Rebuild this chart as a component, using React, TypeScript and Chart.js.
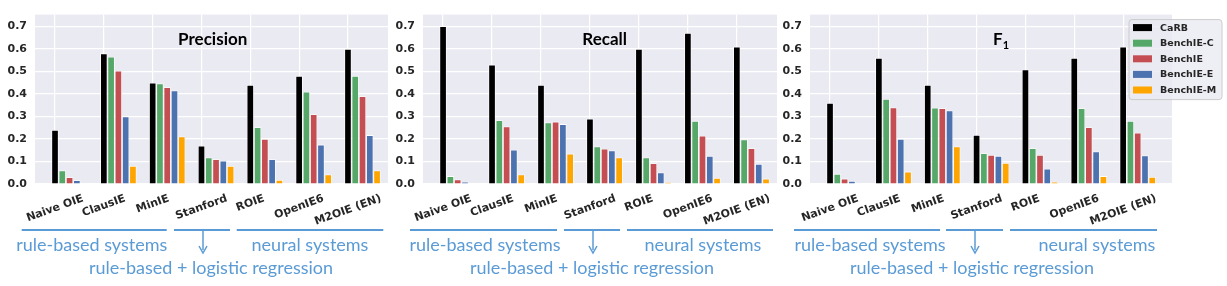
import React, { useEffect, useRef } from "react";
import { Chart, registerables } from "chart.js";

Chart.register(...registerables);

// ---------- data ----------
const categories = ["Naive OIE", "ClausIE", "MinIE", "Stanford", "ROIE", "OpenIE6", "M2OIE (EN)"];
const seriesNames = ["CaRB", "BenchIE-C", "BenchIE", "BenchIE-E", "BenchIE-M"];
const seriesColors = ["#000000", "#55A868", "#C44E52", "#4C72B0", "#FFA500"];
const yTicks = [0, 0.1, 0.2, 0.3, 0.4, 0.5, 0.6, 0.7];

const precisionCaRB = [0.24, 0.58, 0.45, 0.17, 0.44, 0.48, 0.6];
const precisionC = [0.06, 0.565, 0.446, 0.118, 0.252, 0.41, 0.48];
const precisionB = [0.03, 0.503, 0.43, 0.11, 0.2, 0.31, 0.39];
const precisionE = [0.017, 0.3, 0.415, 0.103, 0.11, 0.175, 0.217];
const precisionM = [0, 0.08, 0.211, 0.08, 0.018, 0.042, 0.06];

const recallCaRB = [0.7, 0.53, 0.44, 0.29, 0.6, 0.67, 0.61];
const recallC = [0.035, 0.283, 0.273, 0.167, 0.118, 0.28, 0.198];
const recallB = [0.02, 0.255, 0.277, 0.157, 0.092, 0.214, 0.159];
const recallE = [0.01, 0.152, 0.266, 0.149, 0.051, 0.125, 0.089];
const recallM = [0, 0.042, 0.135, 0.118, 0.008, 0.027, 0.024];

const f1CaRB = [0.36, 0.56, 0.44, 0.218, 0.508, 0.56, 0.61];
const f1C = [0.045, 0.377, 0.339, 0.137, 0.159, 0.336, 0.28];
const f1B = [0.024, 0.34, 0.336, 0.129, 0.129, 0.252, 0.228];
const f1E = [0.013, 0.2, 0.326, 0.125, 0.068, 0.144, 0.127];
const f1M = [0, 0.055, 0.167, 0.093, 0.01, 0.035, 0.031];

const groupLabels = ["rule-based systems", "neural systems", "rule-based + logistic regression"];

// ---------- layout ----------
const TICK_FONT = "bold 11px 'DejaVu Sans'";
const TEXT_COLOR = "#262626";
const ANNO_COLOR = "#5B9BD5";
const CANVAS_H = 230;

type Panel = {
  title: string;
  sub?: string;
  series: number[][];
  left: number;
  width: number;
  padRight: number;
  xMin: number;
  xMax: number;
  titleX: number;
  legend: boolean;
};

const panels: Panel[] = [
  {
    title: "Precision",
    series: [precisionCaRB, precisionC, precisionB, precisionE, precisionM],
    left: 0, width: 390, padRight: 2, xMin: -0.41, xMax: 6.82, titleX: 3.23, legend: false,
  },
  {
    title: "Recall",
    series: [recallCaRB, recallC, recallB, recallE, recallM],
    left: 388, width: 392, padRight: 3, xMin: -0.41, xMax: 6.82, titleX: 3.3, legend: false,
  },
  {
    title: "F",
    sub: "1",
    series: [f1CaRB, f1C, f1B, f1E, f1M],
    left: 775, width: 452, padRight: 55, xMin: -0.41, xMax: 7.0, titleX: 3.5, legend: true,
  },
];

// annotation geometry per panel: line segments, arrow x, text centres
const annoLayout = [
  { segs: [[21.7, 166.7], [174, 230], [236.7, 383.3]], arrow: 203, tx: [91.7, 310, 211] },
  { segs: [[410, 557], [564, 620], [627, 773]], arrow: 593, tx: [485, 703, 592] },
  { segs: [[794, 940], [946, 1003], [1010, 1157]], arrow: 975, tx: [870, 1097, 972] },
];

const bgPlugin = {
  id: "bg",
  beforeDraw(chart: any) {
    const { ctx, chartArea } = chart;
    ctx.save();
    ctx.fillStyle = "#EAEAF2";
    ctx.fillRect(chartArea.left, chartArea.top, chartArea.right - chartArea.left, chartArea.bottom - chartArea.top);
    ctx.restore();
  },
};

const xLabelPlugin = {
  id: "xlabels",
  afterDraw(chart: any) {
    const { ctx, chartArea, scales } = chart;
    const xs = scales.x;
    const ang = (20 * Math.PI) / 180;
    ctx.save();
    ctx.font = TICK_FONT;
    ctx.fillStyle = TEXT_COLOR;
    ctx.textAlign = "center";
    ctx.textBaseline = "middle";
    categories.forEach((c, i) => {
      const w = ctx.measureText(c).width;
      const h = 11;
      const hr = w * Math.sin(ang) + h * Math.cos(ang);
      const cx = xs.getPixelForValue(i);
      const cy = chartArea.bottom + 9 + hr / 2;
      ctx.save();
      ctx.translate(cx, cy);
      ctx.rotate(-ang);
      ctx.fillText(c, 0, 0);
      ctx.restore();
    });
    ctx.restore();
  },
};

function makeTitlePlugin(p: Panel) {
  return {
    id: "ptitle",
    afterDraw(chart: any) {
      const { ctx, chartArea, scales } = chart;
      const cx = scales.x.getPixelForValue(p.titleX);
      const base = chartArea.top + 30;
      ctx.save();
      ctx.fillStyle = "#000";
      ctx.textBaseline = "alphabetic";
      ctx.font = "bold 17px Lato";
      const w = ctx.measureText(p.title).width;
      let sw = 0;
      if (p.sub) {
        ctx.font = "bold 11px Lato";
        sw = ctx.measureText(p.sub).width;
      }
      const start = cx - (w + sw) / 2;
      ctx.font = "bold 17px Lato";
      ctx.textAlign = "left";
      ctx.fillText(p.title, start, base);
      if (p.sub) {
        ctx.font = "bold 11px Lato";
        ctx.fillText(p.sub, start + w, base + 4);
      }
      ctx.restore();
    },
  };
}

const legendPlugin = {
  id: "plegend",
  afterDraw(chart: any) {
    const { ctx, chartArea } = chart;
    const bx = chartArea.right - 43;
    const by = chartArea.top + 5;
    const bw = 93;
    const bh = 80;
    ctx.save();
    ctx.beginPath();
    const r = 3;
    ctx.moveTo(bx + r, by);
    ctx.arcTo(bx + bw, by, bx + bw, by + bh, r);
    ctx.arcTo(bx + bw, by + bh, bx, by + bh, r);
    ctx.arcTo(bx, by + bh, bx, by, r);
    ctx.arcTo(bx, by, bx + bw, by, r);
    ctx.closePath();
    ctx.fillStyle = "rgba(234,234,242,0.8)";
    ctx.fill();
    ctx.strokeStyle = "#CCCCCC";
    ctx.lineWidth = 1;
    ctx.stroke();
    ctx.font = "bold 9.5px 'DejaVu Sans'";
    ctx.textBaseline = "middle";
    ctx.textAlign = "left";
    seriesNames.forEach((n, k) => {
      const cy = by + 8 + k * 15.6;
      ctx.fillStyle = seriesColors[k];
      ctx.fillRect(bx + 4, cy - 3.5, 19, 7);
      ctx.fillStyle = TEXT_COLOR;
      ctx.fillText(n, bx + 31, cy + 0.5);
    });
    ctx.restore();
  },
};

function PanelChart({ p }: { p: Panel }) {
  const ref = useRef<HTMLCanvasElement>(null);
  useEffect(() => {
    const canvas = ref.current!;
    const spacers = [0, 1, 2, 3].map(() => ({
      label: "",
      data: [] as any[],
      backgroundColor: "rgba(0,0,0,0)",
    }));
    const real = p.series.map((vals, k) => ({
      label: seriesNames[k],
      data: categories.map((_, i) => ({ x: i, y: vals[i] })),
      backgroundColor: seriesColors[k],
      borderColor: "#FFFFFF",
      borderWidth: 0.8,
      borderSkipped: "bottom" as const,
    }));
    const plugins: any[] = [bgPlugin, xLabelPlugin, makeTitlePlugin(p)];
    if (p.legend) plugins.push(legendPlugin);
    const chart = new Chart(canvas, {
      type: "bar",
      data: { datasets: [...spacers, ...real] as any },
      options: {
        responsive: false,
        animation: false,
        events: [],
        layout: { padding: { left: 0, right: p.padRight, top: 7, bottom: 0 } },
        datasets: { bar: { categoryPercentage: 9 * 0.149, barPercentage: 1 } },
        plugins: { legend: { display: false }, tooltip: { enabled: false }, title: { display: false } },
        scales: {
          x: {
            type: "linear",
            min: p.xMin,
            max: p.xMax,
            offset: false,
            grid: { offset: false, color: "#FFFFFF", lineWidth: 1.2, drawTicks: false },
            border: { display: false },
            ticks: { display: false },
            afterBuildTicks: (s: any) => {
              s.ticks = categories.map((_, i) => ({ value: i }));
            },
            afterFit: (s: any) => {
              s.height = CANVAS_H - 184;
            },
          },
          y: {
            type: "linear",
            min: 0,
            max: 0.752,
            grid: { color: "#FFFFFF", lineWidth: 1.2, drawTicks: false },
            border: { display: false },
            ticks: {
              padding: 8,
              color: TEXT_COLOR,
              font: { family: "'DejaVu Sans'", size: 11, weight: "bold" },
              callback: (v: any) => Number(v).toFixed(1),
            },
            afterBuildTicks: (s: any) => {
              s.ticks = yTicks.map((v) => ({ value: v }));
            },
            afterFit: (s: any) => {
              s.width = 35;
            },
          },
        },
      } as any,
      plugins,
    });
    return () => chart.destroy();
  }, [p]);
  return (
    <canvas
      ref={ref}
      width={p.width}
      height={CANVAS_H}
      style={{ position: "absolute", left: p.left, top: 0, width: p.width, height: CANVAS_H }}
    />
  );
}

function Annotations() {
  const lineY = 230;
  const textProps = { textAnchor: "middle" as const, fill: ANNO_COLOR, fontFamily: "Lato", fontSize: 18 };
  return (
    <svg width={1227} height={286} style={{ position: "absolute", left: 0, top: 0, pointerEvents: "none" }}>
      {annoLayout.map((a, pi) => (
        <g key={pi}>
          {a.segs.map(([x1, x2], i) => (
            <line key={i} x1={x1} x2={x2} y1={lineY} y2={lineY} stroke={ANNO_COLOR} strokeWidth={2} />
          ))}
          <line x1={a.arrow} x2={a.arrow} y1={lineY} y2={250} stroke={ANNO_COLOR} strokeWidth={1.5} />
          <path
            d={`M${a.arrow - 4},246 L${a.arrow},253 L${a.arrow + 4},246`}
            fill="none"
            stroke={ANNO_COLOR}
            strokeWidth={1.5}
          />
          <text x={a.tx[0]} y={250.5} {...textProps}>
            {groupLabels[0]}
          </text>
          <text x={a.tx[1]} y={250.5} {...textProps}>
            {groupLabels[1]}
          </text>
          <text x={a.tx[2]} y={274} {...textProps}>
            {groupLabels[2]}
          </text>
        </g>
      ))}
    </svg>
  );
}

export default function App() {
  return (
    <div style={{ position: "absolute", left: 0, top: 0, width: 1227, height: 286, background: "#FFFFFF", overflow: "hidden" }}>
      {panels.map((p, i) => (
        <PanelChart key={i} p={p} />
      ))}
      <Annotations />
    </div>
  );
}
